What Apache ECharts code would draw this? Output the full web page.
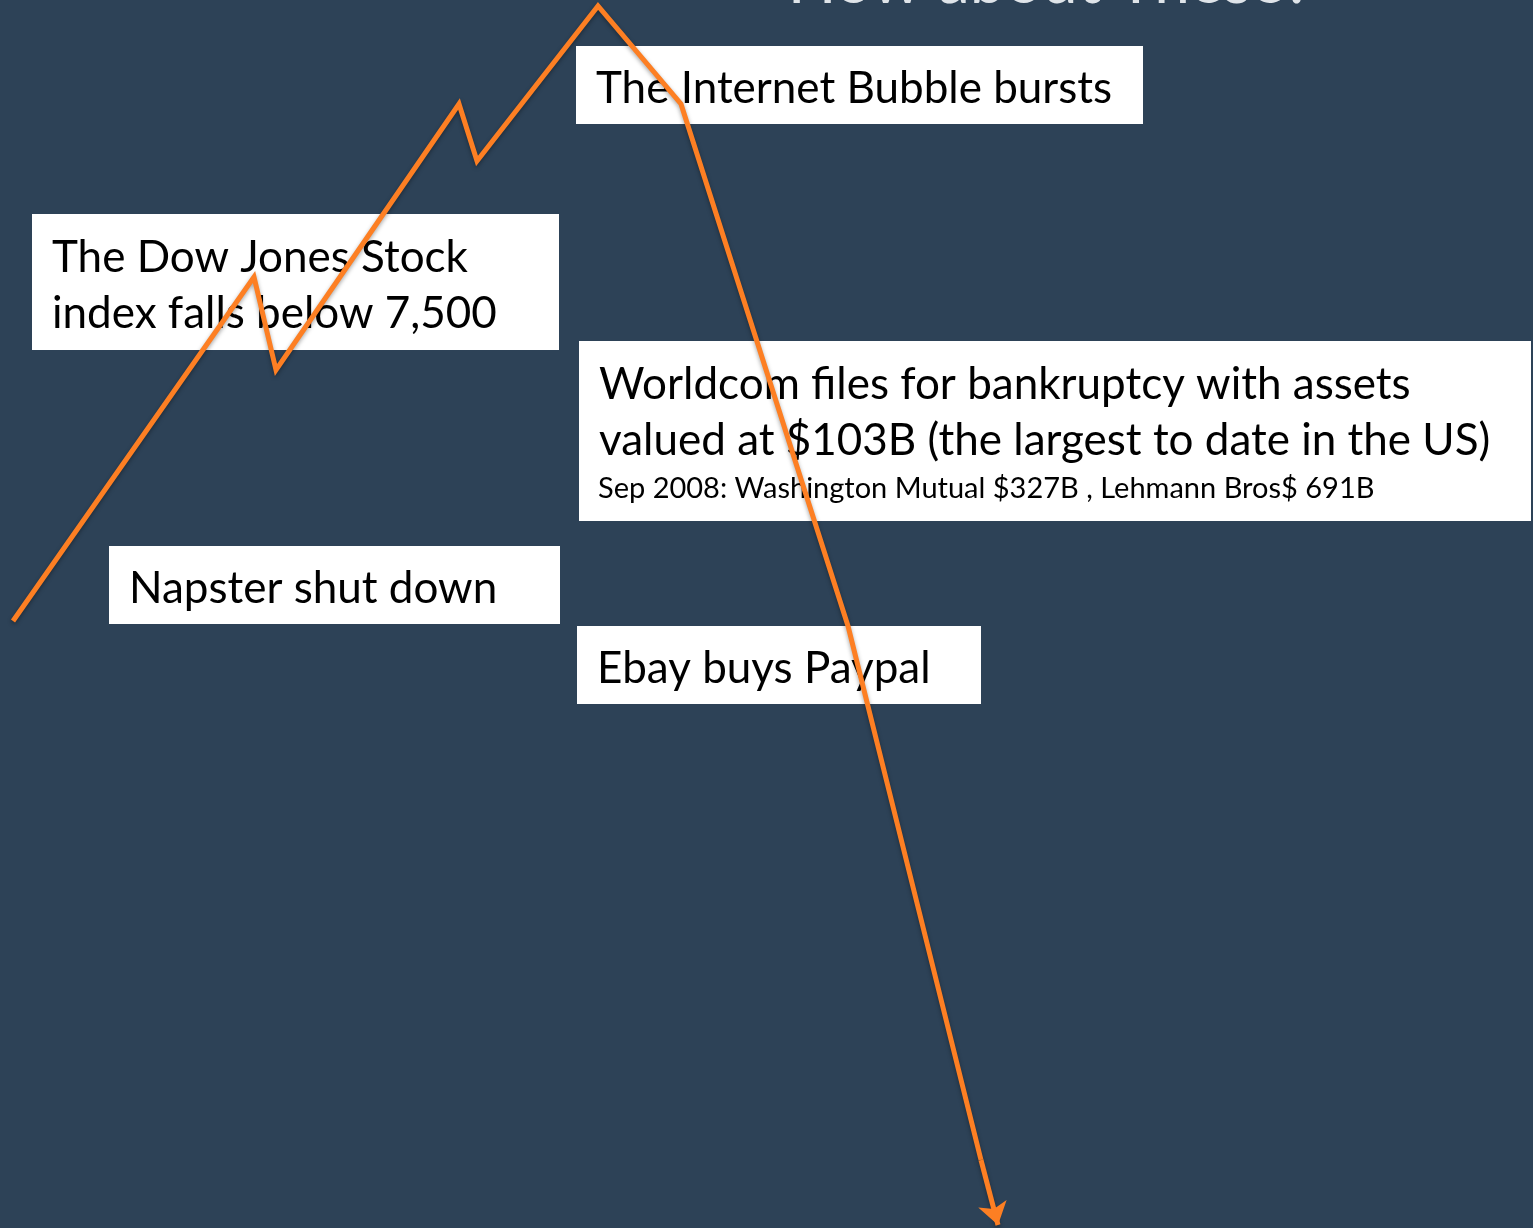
<!DOCTYPE html>
<html>
<head>
<meta charset="utf-8">
<script src="https://cdn.jsdelivr.net/npm/echarts@6/dist/echarts.min.js"></script>
<style>
  html, body { margin: 0; padding: 0; background: #2d4257; }
  #chart { width: 1533px; height: 1228px; }
</style>
</head>
<body>
<div id="chart"></div>
<script>
// index path (x = time, y = index level, both in slide units)
const timeX  = [13, 254, 276, 459, 477, 598, 681, 848, 981]
const levelY = [607, 951, 858, 1124, 1067, 1222, 1124, 602, 68]
// last leg, drawn with the arrow head
const arrowX = [981, 998]
const arrowY = [68, 3]

// annotation boxes: [left, top, right, bottom] in slide units + text lines
const notes = [
    { box: [576, 46, 1143, 124], lines: ['The Internet Bubble bursts'] },
    { box: [32, 214, 559, 350], lines: ['The Dow Jones Stock', 'index falls below 7,500'] },
    { box: [579, 341, 1531, 521], lines: ['Worldcom files for bankruptcy with assets', 'valued at $103B (the largest to date in the US)'],
      small: 'Sep 2008: Washington Mutual $327B , Lehmann Bros$ 691B' },
    { box: [109, 546, 560, 624], lines: ['Napster shut down'] },
    { box: [577, 626, 981, 704], lines: ['Ebay buys Paypal'] },
]

const W = 1533, H = 1228
const chart = echarts.init(document.getElementById('chart'))

const graphics = []
notes.forEach(n => {
    const [l, t, r, b] = n.box
    graphics.push({
        type: 'rect', z: 0,
        shape: { x: l, y: t, width: r - l, height: b - t },
        style: { fill: '#ffffff' }
    })
    const lineH = 56
    const small = n.small ? 1 : 0
    const total = n.lines.length * lineH + (small ? 44 : 0)
    let y0 = t + (b - t - total) / 2 + 4
    n.lines.forEach((s, i) => {
        graphics.push({
            type: 'text', z: 1,
            x: l + 20, y: y0 + i * lineH + lineH / 2,
            style: { text: s, font: '44px Lato', fill: '#000', verticalAlign: 'middle', align: 'left' }
        })
    })
    if (small) {
        graphics.push({
            type: 'text', z: 1,
            x: l + 19, y: y0 + n.lines.length * lineH + 20,
            style: { text: n.small, font: '29px Lato', fill: '#000', verticalAlign: 'middle', align: 'left' }
        })
    }
})
// slide title, mostly cut off at the top edge
graphics.push({
    type: 'text', z: 1,
    x: 1050, y: 14,
    style: {
        text: 'How about These?', font: '64px Lato', fill: '#dfe4e9',
        align: 'center', verticalAlign: 'bottom',
        shadowColor: 'rgba(0,0,0,0.8)', shadowBlur: 6, shadowOffsetY: 3
    }
})

const lineStyle = {
    color: '#fd7f23', width: 5, opacity: 1,
    shadowColor: 'rgba(0,0,0,0.35)', shadowBlur: 4, shadowOffsetY: 2
}

const option = {
    backgroundColor: '#2d4257',
    animation: false,
    grid: { left: 0, right: 0, top: 0, bottom: 0 },
    xAxis: { type: 'value', min: 0, max: W, show: false },
    yAxis: { type: 'value', min: 0, max: H, show: false },
    graphic: graphics,
    series: [{
        type: 'lines',
        coordinateSystem: 'cartesian2d',
        polyline: true,
        z: 5,
        lineStyle: lineStyle,
        data: [{ coords: timeX.map((x, i) => [x, levelY[i]]) }]
    }, {
        type: 'lines',
        coordinateSystem: 'cartesian2d',
        z: 5,
        symbol: ['none', 'arrow'],
        symbolSize: 22,
        lineStyle: lineStyle,
        data: [{ coords: arrowX.map((x, i) => [x, arrowY[i]]) }]
    }]
}
chart.setOption(option)
</script>
</body>
</html>
